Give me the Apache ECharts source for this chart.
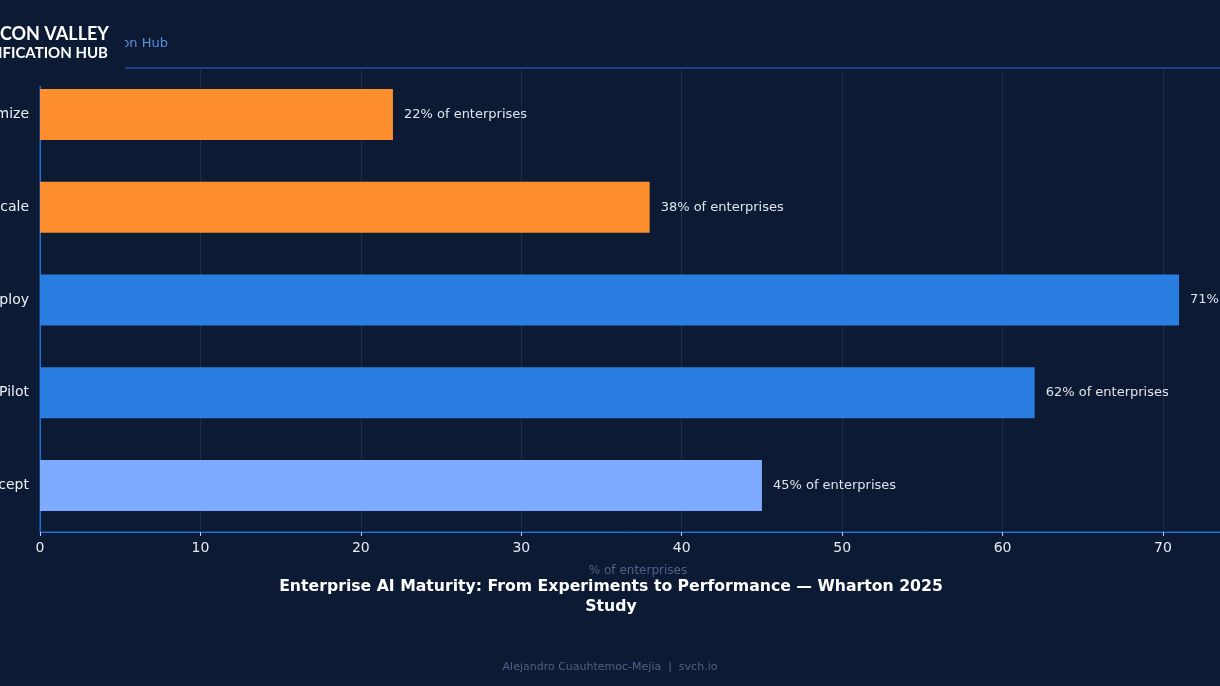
<!DOCTYPE html>
<html>
<head>
<meta charset="utf-8">
<script src="https://cdn.jsdelivr.net/npm/echarts@6/dist/echarts.min.js"></script>
<style>
  html, body { margin: 0; padding: 0; background: #0d1a33; }
  #chart { width: 1220px; height: 686px; }
</style>
</head>
<body>
<div id="chart"></div>
<script>
// stages, top to bottom
var stages = ['Optimize', 'Scale', 'Deploy', 'Pilot', 'Concept'];
var sharePct = [22, 38, 71, 62, 45];
var xTicks = [0, 10, 20, 30, 40, 50, 60, 70];

var barColors = ['#ff8f2e', '#ff8f2e', '#2a7de1', '#2a7de1', '#7eaaff'];
var font = 'DejaVu Sans';

var chart = echarts.init(document.getElementById('chart'));

chart.setOption({
  backgroundColor: '#0d1a33',
  animation: false,
  title: {
    text: 'Enterprise AI Maturity: From Experiments to Performance \u2014 Wharton 2025\nStudy',
    left: 606,
    textAlign: 'center',
    top: 572,
    textStyle: { color: '#ffffff', fontFamily: font, fontSize: 15.7, fontWeight: 'bold', lineHeight: 20 }
  },
  grid: {
    left: 40, top: 68, right: -16, bottom: 154,
    containLabel: false,
    outerBoundsMode: 'none',
    show: true, borderColor: '#1f6fd8', borderWidth: 1, backgroundColor: 'transparent'
  },
  xAxis: {
    type: 'value',
    min: 0, max: 74.55, interval: 10,
    name: '% of enterprises',
    nameLocation: 'middle',
    nameGap: 33,
    nameTextStyle: { color: '#4f6288', fontFamily: font, fontSize: 12 },
    axisLine: { show: true, lineStyle: { color: '#1f6fd8', width: 1 } },
    axisTick: { show: true, length: 4, lineStyle: { color: '#c8cfdc' } },
    axisLabel: {
      color: '#e6e9f0', fontFamily: font, fontSize: 14, margin: 9,
      formatter: function (v) { return xTicks.indexOf(v) >= 0 ? String(v) : ''; }
    },
    splitLine: { show: true, lineStyle: { color: '#1c2e50', width: 1 } }
  },
  yAxis: {
    type: 'category',
    data: stages,
    inverse: true,
    axisLine: { show: true, lineStyle: { color: '#1f6fd8', width: 1 } },
    axisTick: { show: false },
    axisLabel: { color: '#eef1f6', fontFamily: font, fontSize: 14, margin: 11 },
    splitLine: { show: false }
  },
  series: [{
    type: 'bar',
    data: sharePct,
    barCategoryGap: '45%',
    itemStyle: {
      color: function (p) { return barColors[p.dataIndex]; }
    },
    label: {
      show: true,
      position: 'right',
      distance: 11,
      color: '#dfe4ec',
      fontFamily: font,
      fontSize: 13,
      formatter: '{c}% of enterprises'
    }
  }],
  graphic: [
    {
      type: 'text', z: 10,
      x: 168, y: 44,
      style: {
        text: 'Silicon Valley Certification Hub', fill: '#5b8fe0',
        font: '13px "DejaVu Sans"', align: 'right', verticalAlign: 'middle'
      }
    },
    {
      type: 'rect', z: 20,
      shape: { x: 0, y: 0, width: 125, height: 86 },
      style: { fill: '#0d1a33' }
    },
    {
      type: 'text', z: 30,
      x: 109, y: 34,
      style: {
        text: 'SILICON VALLEY', fill: '#ffffff',
        font: 'bold 18px Lato', align: 'right', verticalAlign: 'middle'
      }
    },
    {
      type: 'text', z: 30,
      x: 108, y: 53,
      style: {
        text: 'CERTIFICATION HUB', fill: '#ffffff',
        font: 'bold 15px Lato', align: 'right', verticalAlign: 'middle'
      }
    },
    {
      type: 'text', z: 10,
      x: 610, y: 667,
      style: {
        text: 'Alejandro Cuauhtemoc-Mejia  |  svch.io', fill: '#4f6288',
        font: '11px "DejaVu Sans"', align: 'center', verticalAlign: 'middle'
      }
    }
  ]
});
</script>
</body>
</html>
